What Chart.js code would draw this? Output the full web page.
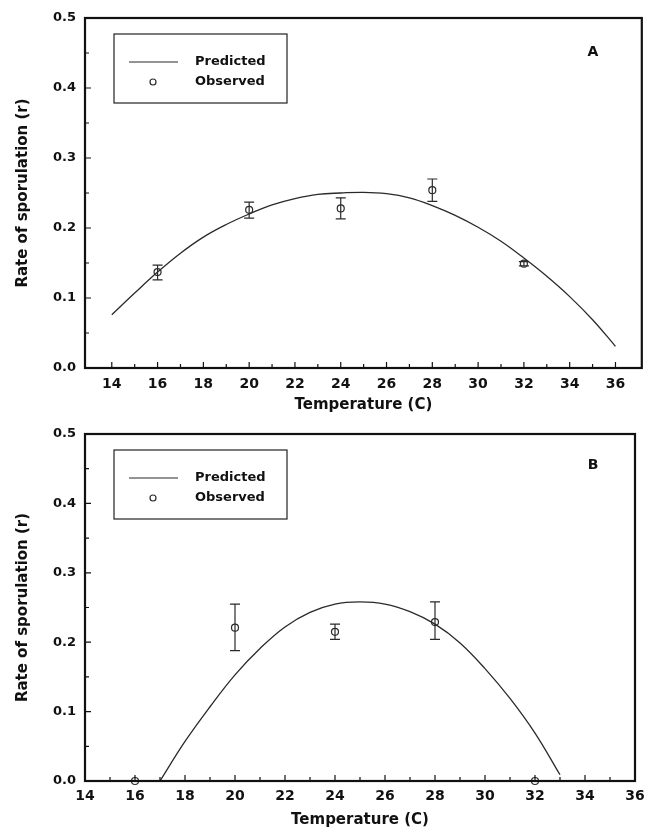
<!DOCTYPE html>
<html>
<head>
<meta charset="utf-8">
<script src="https://cdn.jsdelivr.net/npm/chart.js@4.4.0/dist/chart.umd.min.js"></script>
<style>
    body { margin: 0; background: #fff; }
    #wrap { position: relative; width: 647px; height: 830px; }
    canvas { position: absolute; left: 0; }
</style>
</head>
<body>
<div id="wrap">
    <canvas id="chart_a" width="647" height="415" style="top:0px"></canvas>
    <canvas id="chart_b" width="647" height="415" style="top:415px"></canvas>
</div>
<script>
    // panel A
    const curveTempA = [14, 15, 16, 17, 18, 19, 20, 21, 22, 23, 24, 25, 26, 27, 28, 29, 30, 31, 32, 33, 34, 35, 36];
    const curveRateA = [0.076, 0.107, 0.137, 0.164, 0.187, 0.205, 0.220, 0.233, 0.242, 0.248, 0.250, 0.251, 0.249, 0.243, 0.232, 0.218, 0.201, 0.181, 0.157, 0.131, 0.102, 0.069, 0.031];
    const obsTempA = [16, 20, 24, 28, 32];
    const obsRateA = [0.137, 0.226, 0.228, 0.254, 0.149];
    const obsLowA = [0.126, 0.214, 0.213, 0.238, 0.146];
    const obsHighA = [0.147, 0.237, 0.243, 0.270, 0.152];

    // panel B
    const curveTempB = [17, 18, 19, 20, 21, 22, 23, 24, 25, 26, 27, 28, 29, 30, 31, 32, 33];
    const curveRateB = [0.0, 0.057, 0.107, 0.153, 0.191, 0.222, 0.243, 0.255, 0.258, 0.255, 0.244, 0.226, 0.199, 0.162, 0.119, 0.069, 0.009];
    const obsTempB = [16, 20, 24, 28, 32];
    const obsRateB = [0.0, 0.221, 0.215, 0.229, 0.0];
    const obsLowB = [null, 0.188, 0.204, 0.204, null];
    const obsHighB = [null, 0.255, 0.226, 0.258, null];

    // axes
    const xTickValues = [14, 16, 18, 20, 22, 24, 26, 28, 30, 32, 34, 36];
    const yTickValues = [0.0, 0.1, 0.2, 0.3, 0.4, 0.5];
    const xTitle = 'Temperature (C)';
    const yTitle = 'Rate of sporulation (r)';

    const ink = '#111';
    const curve_color = '#2a2a2a';
    const font_family = "'DejaVu Sans', 'Liberation Sans', sans-serif";

    function pairs(xs, ys) {
        return xs.map(function (x, i) { return { x: x, y: ys[i] }; });
    }

    const panelPlugin = {
        id: 'panel',
        afterDatasetsDraw: function (chart, args, opts) {
            const ctx = chart.ctx;
            const sx = chart.scales.x, sy = chart.scales.y;
            ctx.save();
            ctx.strokeStyle = curve_color;
            ctx.lineWidth = 1.2;
            opts.errX.forEach(function (t, i) {
                if (opts.errLow[i] == null) return;
                const px = sx.getPixelForValue(t);
                const y1 = sy.getPixelForValue(opts.errLow[i]);
                const y2 = sy.getPixelForValue(opts.errHigh[i]);
                ctx.beginPath();
                ctx.moveTo(px, y1); ctx.lineTo(px, y2);
                ctx.moveTo(px - 5, y1); ctx.lineTo(px + 5, y1);
                ctx.moveTo(px - 5, y2); ctx.lineTo(px + 5, y2);
                ctx.stroke();
            });
            ctx.restore();
        },
        afterDraw: function (chart, args, opts) {
            const ctx = chart.ctx;
            const a = chart.chartArea;
            const sx = chart.scales.x, sy = chart.scales.y;
            ctx.save();

            // inward ticks
            ctx.strokeStyle = ink;
            ctx.lineWidth = 1.2;
            ctx.beginPath();
            for (let t = 14; t <= 36; t++) {
                const px = sx.getPixelForValue(t);
                const len = (t % 2 == 0) ? 6 : 4;
                ctx.moveTo(px, a.bottom); ctx.lineTo(px, a.bottom - len);
            }
            for (let k = 1; k < 10; k++) {
                const py = sy.getPixelForValue(k * 0.05);
                const len = (k % 2 == 0) ? 6 : 4;
                ctx.moveTo(a.left, py); ctx.lineTo(a.left + len, py);
            }
            ctx.stroke();

            // frame
            ctx.lineWidth = 2.2;
            ctx.strokeRect(a.left, a.top, a.right - a.left, a.bottom - a.top);

            // legend box
            const bx = a.left + 29, by = a.top + 16;
            ctx.lineWidth = 1.2;
            ctx.strokeStyle = '#222';
            ctx.strokeRect(bx, by, 173, 69);
            const ds = chart.data.datasets;
            ctx.strokeStyle = curve_color;
            ctx.beginPath();
            ctx.moveTo(bx + 15, by + 28); ctx.lineTo(bx + 64, by + 28);
            ctx.stroke();
            ctx.beginPath();
            ctx.arc(bx + 39, by + 48, 3, 0, Math.PI * 2);
            ctx.stroke();
            ctx.fillStyle = ink;
            ctx.font = 'bold 13px ' + font_family;
            ctx.textBaseline = 'middle';
            ctx.textAlign = 'left';
            ctx.fillText(ds[0].label, bx + 81, by + 28);
            ctx.fillText(ds[1].label, bx + 81, by + 48);

            // panel letter
            ctx.font = 'bold 14px ' + font_family;
            ctx.textAlign = 'center';
            ctx.fillText(opts.letter, opts.letterX, a.top + opts.letterDy);
            ctx.restore();
        }
    };

    function buildChart(elementId, p) {
        const chartCanvas = document.getElementById(elementId).getContext('2d');
        return new Chart(chartCanvas, {
            type: 'scatter',
            data: {
                datasets: [{
                    label: 'Predicted',
                    data: pairs(p.curveTemp, p.curveRate),
                    showLine: true,
                    borderColor: curve_color,
                    borderWidth: 1.3,
                    pointRadius: 0,
                    tension: 0.4,
                    fill: false,
                }, {
                    label: 'Observed',
                    data: pairs(p.obsTemp, p.obsRate),
                    showLine: false,
                    pointRadius: 3.5,
                    pointBackgroundColor: 'rgba(0,0,0,0)',
                    pointBorderColor: curve_color,
                    pointBorderWidth: 1.2,
                    clip: false,
                }],
            },
            options: {
                responsive: false,
                animation: false,
                layout: { padding: p.padding },
                plugins: {
                    legend: { display: false },
                    tooltip: { enabled: false },
                    panel: {
                        errX: p.obsTemp,
                        errLow: p.obsLow,
                        errHigh: p.obsHigh,
                        letter: p.letter,
                        letterX: 593,
                        letterDy: p.letterDy,
                    },
                },
                scales: {
                    x: {
                        type: 'linear',
                        min: p.xMin,
                        max: p.xMax,
                        afterBuildTicks: function (scale) {
                            scale.ticks = xTickValues.map(function (v) { return { value: v }; });
                        },
                        afterFit: function (scale) {
                            scale.height = p.xAxisHeight;
                            scale.paddingLeft = 0;
                            scale.paddingRight = 0;
                        },
                        grid: { display: false, drawTicks: false },
                        border: { display: false },
                        ticks: {
                            autoSkip: false,
                            maxRotation: 0,
                            padding: p.xLabelPad,
                            color: ink,
                            font: { family: font_family, size: 14, weight: 'bold' },
                            callback: function (v) { return v.toString(); },
                        },
                        title: {
                            display: true,
                            text: xTitle,
                            color: ink,
                            font: { family: font_family, size: 15, weight: 'bold' },
                            padding: { top: 0, bottom: 1 },
                        },
                    },
                    y: {
                        min: 0,
                        max: 0.5,
                        afterBuildTicks: function (scale) {
                            scale.ticks = yTickValues.map(function (v) { return { value: v }; });
                        },
                        afterFit: function (scale) { scale.width = 85; },
                        grid: { display: false, drawTicks: false },
                        border: { display: false },
                        ticks: {
                            padding: 9,
                            color: ink,
                            font: { family: font_family, size: 13, weight: 'bold' },
                            callback: function (v) { return v.toFixed(1); },
                        },
                        title: {
                            display: true,
                            text: yTitle,
                            color: ink,
                            font: { family: font_family, size: 15, weight: 'bold' },
                            padding: { top: 14, bottom: 0 },
                        },
                    },
                },
            },
            plugins: [panelPlugin],
        });
    }

    buildChart('chart_a', {
        curveTemp: curveTempA, curveRate: curveRateA,
        obsTemp: obsTempA, obsRate: obsRateA, obsLow: obsLowA, obsHigh: obsHighA,
        xMin: 12.83, xMax: 37.15,
        padding: { top: 18, right: 3, left: 0, bottom: 0 },
        xAxisHeight: 47, xLabelPad: 8,
        letter: 'A', letterDy: 34,
    });

    buildChart('chart_b', {
        curveTemp: curveTempB, curveRate: curveRateB,
        obsTemp: obsTempB, obsRate: obsRateB, obsLow: obsLowB, obsHigh: obsHighB,
        xMin: 14, xMax: 36,
        padding: { top: 19, right: 12, left: 0, bottom: 0 },
        xAxisHeight: 49, xLabelPad: 7,
        letter: 'B', letterDy: 31,
    });
</script>
</body>
</html>
